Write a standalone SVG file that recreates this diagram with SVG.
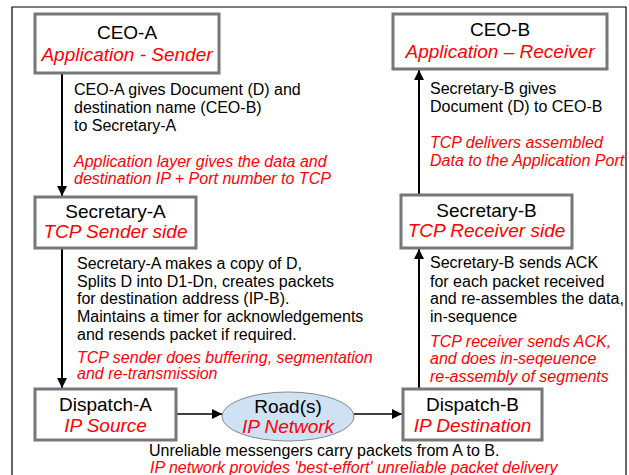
<svg xmlns="http://www.w3.org/2000/svg" width="629" height="475" viewBox="0 0 629 475">
<defs>
<style>
.box{fill:#fff;stroke:#777;stroke-width:3}
.lbl{font-family:"Liberation Sans",Arial,sans-serif;font-size:19px;fill:#000;text-anchor:middle}
.sub{font-family:"Liberation Sans",Arial,sans-serif;font-size:19px;font-style:italic;fill:#ff0000;text-anchor:middle}
.desc{font-family:"Liberation Sans",Arial,sans-serif;font-size:16px;fill:#000}
.note{font-family:"Liberation Sans",Arial,sans-serif;font-size:16px;font-style:italic;fill:#ff0000}
.conn{stroke:#000;fill:none}
</style>
<marker id="ah" viewBox="0 0 10 10" refX="10" refY="5" markerWidth="10" markerHeight="10" markerUnits="userSpaceOnUse" orient="auto">
<path d="M0,0 L10,5 L0,10 Z" fill="#000"/>
</marker>
</defs>
<rect width="629" height="475" fill="#fff"/>
<path d="M12,480 L12,7 L626,7 L626,480" fill="none" stroke="#000" stroke-width="1.2"/>

<g id="connectors">
<line class="conn" x1="62" y1="73" x2="62" y2="196" stroke-width="2" marker-end="url(#ah)"/>
<line class="conn" x1="62" y1="248" x2="62" y2="388" stroke-width="2" marker-end="url(#ah)"/>
<line class="conn" x1="419" y1="389" x2="419" y2="249" stroke-width="2" marker-end="url(#ah)"/>
<line class="conn" x1="419" y1="195" x2="419" y2="70" stroke-width="2" marker-end="url(#ah)"/>
<line class="conn" x1="176" y1="414" x2="222" y2="414" stroke-width="1.5" marker-end="url(#ah)"/>
<line class="conn" x1="354" y1="414" x2="402" y2="414" stroke-width="1.5" marker-end="url(#ah)"/>
</g>

<g id="ceo-a">
<rect class="box" x="35" y="14" width="184" height="59"/>
<text class="lbl" x="127" y="39">CEO-A</text>
<text class="sub" x="127" y="61">Application - Sender</text>
</g>
<g id="ceo-b">
<rect class="box" x="393" y="14" width="214" height="55"/>
<text class="lbl" x="500" y="36">CEO-B</text>
<text class="sub" x="500" y="58">Application – Receiver</text>
</g>
<g id="secretary-a">
<rect class="box" x="35" y="197" width="161" height="51"/>
<text class="lbl" x="115.5" y="218">Secretary-A</text>
<text class="sub" x="115.5" y="238">TCP Sender side</text>
</g>
<g id="secretary-b">
<rect class="box" x="401" y="195" width="171" height="53"/>
<text class="lbl" x="486.5" y="217">Secretary-B</text>
<text class="sub" x="486.5" y="237">TCP Receiver side</text>
</g>
<g id="dispatch-a">
<rect class="box" x="35" y="389" width="141" height="51"/>
<text class="lbl" x="105.5" y="411">Dispatch-A</text>
<text class="sub" x="105.5" y="432">IP Source</text>
</g>
<g id="roads">
<ellipse cx="288" cy="416.5" rx="66" ry="24.5" fill="#cfe2f3" stroke="#888" stroke-width="1"/>
<text class="lbl" x="288" y="413">Road(s)</text>
<text class="sub" x="288" y="433">IP Network</text>
</g>
<g id="dispatch-b">
<rect class="box" x="403" y="389" width="139" height="51"/>
<text class="lbl" x="472.5" y="411">Dispatch-B</text>
<text class="sub" x="472.5" y="432">IP Destination</text>
</g>

<g id="text-a1">
<text class="desc" x="74" y="95">CEO-A gives Document (D) and</text>
<text class="desc" x="74" y="113">destination name (CEO-B)</text>
<text class="desc" x="74" y="131">to Secretary-A</text>
<text class="note" x="74" y="167">Application layer gives the data and</text>
<text class="note" x="74" y="184">destination IP + Port number to TCP</text>
</g>
<g id="text-a2">
<text class="desc" x="77" y="269">Secretary-A makes a copy of D,</text>
<text class="desc" x="77" y="287">Splits D into D1-Dn, creates packets</text>
<text class="desc" x="77" y="304">for destination address (IP-B).</text>
<text class="desc" x="77" y="322">Maintains a timer for acknowledgements</text>
<text class="desc" x="77" y="340">and resends packet if required.</text>
<text class="note" x="77" y="363">TCP sender does buffering, segmentation</text>
<text class="note" x="77" y="379">and re-transmission</text>
</g>
<g id="text-b1">
<text class="desc" x="430" y="94">Secretary-B gives</text>
<text class="desc" x="430" y="112">Document (D) to CEO-B</text>
<text class="note" x="430" y="148">TCP delivers assembled</text>
<text class="note" x="430" y="166">Data to the Application Port</text>
</g>
<g id="text-b2">
<text class="desc" x="430" y="268">Secretary-B sends ACK</text>
<text class="desc" x="430" y="287">for each packet received</text>
<text class="desc" x="430" y="304">and re-assembles the data,</text>
<text class="desc" x="430" y="322">in-sequence</text>
<text class="note" x="430" y="347">TCP receiver sends ACK,</text>
<text class="note" x="430" y="364">and does in-seqeuence</text>
<text class="note" x="430" y="382">re-assembly of segments</text>
</g>
<g id="text-bottom">
<text class="desc" x="149" y="456">Unreliable messengers carry packets from A to B.</text>
<text class="note" x="150" y="473">IP network provides 'best-effort' unreliable packet delivery</text>
</g>
</svg>
